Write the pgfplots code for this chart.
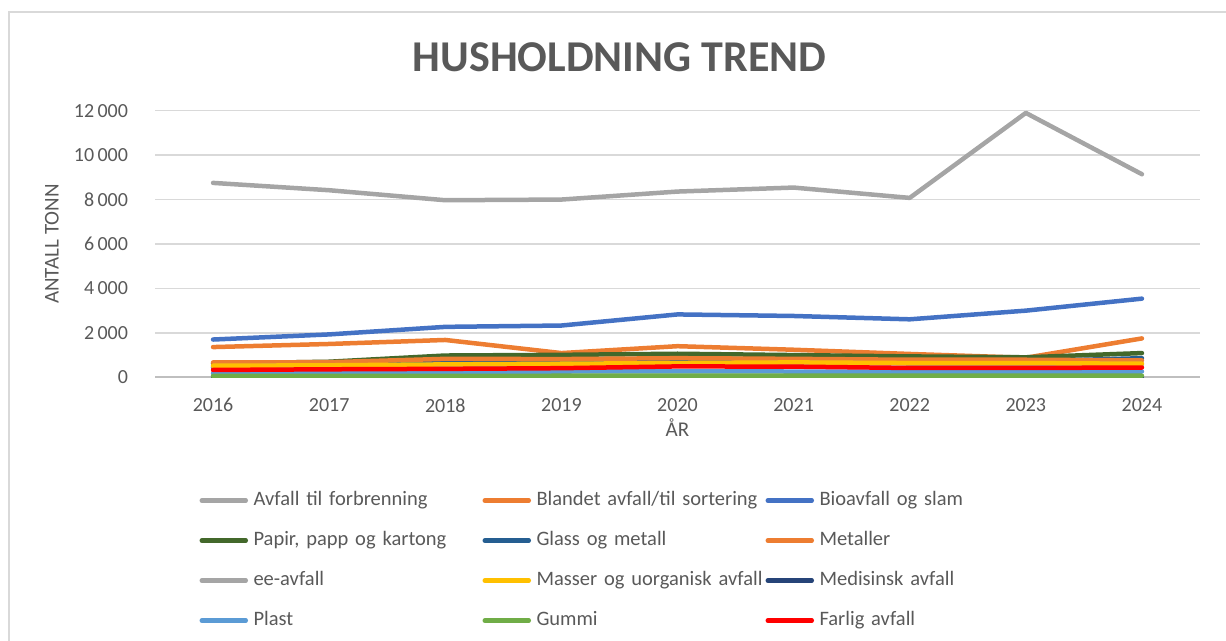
\documentclass[border=0pt]{standalone}
\usepackage{fontspec}
\setmainfont{Carlito}
\usepackage{pgfplots}
\pgfplotsset{compat=1.18}
\definecolor{txt}{HTML}{595959}
\definecolor{gridc}{HTML}{D9D9D9}
\definecolor{axc}{HTML}{BFBFBF}
\definecolor{cgray}{HTML}{A5A5A5}
\definecolor{corange}{HTML}{ED7D31}
\definecolor{cblue}{HTML}{4472C4}
\definecolor{cdgreen}{HTML}{43682B}
\definecolor{cdblue}{HTML}{255E91}
\definecolor{cyellow}{HTML}{FFC000}
\definecolor{cnavy}{HTML}{264478}
\definecolor{clblue}{HTML}{5B9BD5}
\definecolor{cgreen}{HTML}{70AD47}
\definecolor{cred}{HTML}{FF0000}
\begin{document}
\begin{tikzpicture}
\useasboundingbox (0pt,0pt) rectangle (613pt,320.5pt);
\draw[color=gridc, line width=1pt] (4.5pt,-2pt) -- (4.5pt,314.5pt) -- (615pt,314.5pt);
\node[font=\fontsize{22}{26}\selectfont\bfseries, text=txt] at (309.75pt,292pt) {HUSHOLDNING TREND};
\begin{axis}[
  at={(77.5pt,131.85pt)}, anchor=south west,
  scale only axis, width=522.5pt, height=133.3pt,
  xmin=2015.5, xmax=2024.5, ymin=0, ymax=12000,
  xtick={2016,2017,2018,2019,2020,2021,2022,2023,2024},
  ytick={0,2000,4000,6000,8000,10000,12000},
  scaled y ticks=false,
  major tick length=0pt,
  axis line style={draw=none},
  ymajorgrids, grid style={color=gridc, line width=0.75pt},
  extra y ticks={0}, extra y tick labels={},
  extra y tick style={grid style={color=axc, line width=0.9pt}},
  /pgf/number format/assume math mode=true,
  ticklabel style={font=\fontsize{10}{12}\selectfont, text=txt},
  xticklabel style={/pgf/number format/1000 sep={}, yshift=-7pt},
  yticklabel style={/pgf/number format/1000 sep={\,}, xshift=-10pt},
  every axis y label/.style={at={(axis description cs:-0.0986,0.5)}, rotate=90, anchor=center, font=\fontsize{10.5}{12}\selectfont, text=txt},
  every axis x label/.style={at={(axis description cs:0.5,-0.19)}, anchor=center, font=\fontsize{10.5}{12}\selectfont, text=txt},
  ylabel={ANTALL TONN}, xlabel={ÅR},
  every axis plot/.append style={line width=2.25pt, line join=round, line cap=round},
  legend image code/.code={\draw[#1] (0pt,0pt) -- (22pt,0pt);},
  legend columns=3,
  legend cell align=left,
  legend style={at={(axis description cs:0.0426,-0.4285)}, anchor=north west,
    draw=none, fill=none, inner sep=0pt, outer sep=0pt,
    font=\fontsize{10.25}{12}\selectfont, text=txt,
    nodes={inner sep=0pt, text height=7pt, text depth=2pt},
    row sep=11pt,
    /tikz/every odd column/.append style={column sep=2.75pt},
    /tikz/every even column/.append style={text width=114.5pt, align=left, column sep=0pt}},
]
\addplot[color=cgray] coordinates {(2016,8750) (2017,8420) (2018,7970) (2019,8000) (2020,8360) (2021,8540) (2022,8075) (2023,11900) (2024,9140)};
\addlegendentry{Avfall til forbrenning}
\addplot[color=corange] coordinates {(2016,1360) (2017,1500) (2018,1680) (2019,1090) (2020,1400) (2021,1240) (2022,1050) (2023,880) (2024,1750)};
\addlegendentry{Blandet avfall/til sortering}
\addplot[color=cblue] coordinates {(2016,1700) (2017,1930) (2018,2270) (2019,2330) (2020,2830) (2021,2760) (2022,2610) (2023,3000) (2024,3540)};
\addlegendentry{Bioavfall og slam}
\addplot[color=cdgreen] coordinates {(2016,620) (2017,700) (2018,980) (2019,1010) (2020,1060) (2021,1000) (2022,940) (2023,900) (2024,1090)};
\addlegendentry{Papir, papp og kartong}
\addplot[color=cdblue] coordinates {(2016,450) (2017,500) (2018,650) (2019,660) (2020,710) (2021,720) (2022,700) (2023,720) (2024,860)};
\addlegendentry{Glass og metall}
\addplot[color=corange] coordinates {(2016,670) (2017,680) (2018,830) (2019,820) (2020,860) (2021,830) (2022,790) (2023,790) (2024,760)};
\addlegendentry{Metaller}
\addplot[color=cgray] coordinates {(2016,500) (2017,520) (2018,560) (2019,590) (2020,620) (2021,650) (2022,620) (2023,620) (2024,590)};
\addlegendentry{ee-avfall}
\addplot[color=cyellow] coordinates {(2016,520) (2017,540) (2018,580) (2019,610) (2020,640) (2021,670) (2022,640) (2023,640) (2024,610)};
\addlegendentry{Masser og uorganisk avfall}
\addplot[color=cnavy] coordinates {(2016,10) (2017,10) (2018,10) (2019,10) (2020,10) (2021,10) (2022,10) (2023,10) (2024,10)};
\addlegendentry{Medisinsk avfall}
\addplot[color=clblue] coordinates {(2016,180) (2017,200) (2018,230) (2019,260) (2020,270) (2021,260) (2022,250) (2023,250) (2024,260)};
\addlegendentry{Plast}
\addplot[color=cgreen] coordinates {(2016,60) (2017,60) (2018,65) (2019,70) (2020,80) (2021,75) (2022,70) (2023,75) (2024,70)};
\addlegendentry{Gummi}
\addplot[color=cred] coordinates {(2016,330) (2017,360) (2018,380) (2019,410) (2020,490) (2021,480) (2022,420) (2023,420) (2024,440)};
\addlegendentry{Farlig avfall}
\end{axis}
\end{tikzpicture}
\end{document}
